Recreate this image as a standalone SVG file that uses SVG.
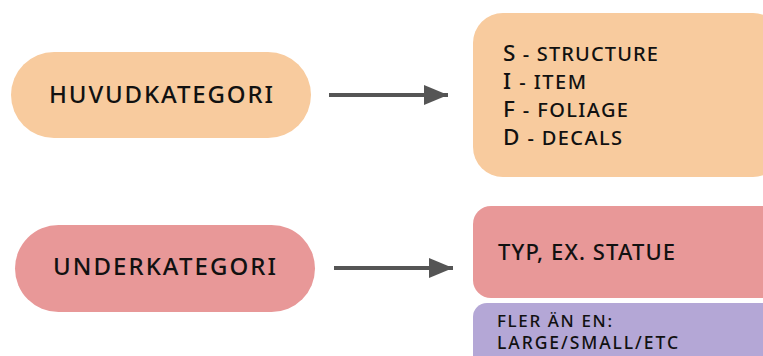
<svg xmlns="http://www.w3.org/2000/svg" width="763" height="356" viewBox="0 0 763 356">
<style>
.t{font-family:"Noto Sans","Liberation Sans",sans-serif;fill:#111;font-weight:500}
.big{font-size:24px}
.lst{font-size:20px}
.cap{font-size:22.5px}
.peach{fill:#F8CB9E}
.pink{fill:#E89898}
.purple{fill:#B4A7D6}
.conn{stroke:#555;stroke-width:4;fill:none}
</style>
<defs>
<marker id="ah" markerUnits="userSpaceOnUse" markerWidth="24" markerHeight="20" refX="24" refY="10" orient="auto">
<path d="M0,0 L24,10 L0,20 Z" fill="#555"/>
</marker>
</defs>
<rect width="763" height="356" fill="#fff"/>
<g id="huvudkategori">
<rect class="peach" x="11" y="52" width="300" height="86" rx="43"/>
<text class="t big" x="49" y="103" textLength="224" lengthAdjust="spacing">HUVUDKATEGORI</text>
</g>
<g id="kategorier">
<rect class="peach" x="473" y="13" width="310" height="164" rx="30"/>
<text class="t lst" x="503" y="61" textLength="155" lengthAdjust="spacing"><tspan class="cap">S</tspan> - STRUCTURE</text>
<text class="t lst" x="503" y="89" textLength="83" lengthAdjust="spacing"><tspan class="cap">I</tspan> - ITEM</text>
<text class="t lst" x="503" y="117" textLength="125" lengthAdjust="spacing"><tspan class="cap">F</tspan> - FOLIAGE</text>
<text class="t lst" x="503" y="145" textLength="119" lengthAdjust="spacing"><tspan class="cap">D</tspan> - DECALS</text>
</g>
<g id="underkategori">
<rect class="pink" x="15" y="225" width="300" height="87" rx="43.5"/>
<text class="t big" x="53" y="275" textLength="223" lengthAdjust="spacing">UNDERKATEGORI</text>
</g>
<g id="typ">
<rect class="pink" x="473" y="206" width="310" height="92" rx="18"/>
<text class="t" style="font-size:22px" x="498" y="260" textLength="177" lengthAdjust="spacing">TYP, EX. STATUE</text>
</g>
<g id="fler">
<rect class="purple" x="473" y="303" width="310" height="80" rx="14"/>
<text class="t" style="font-size:17px" x="497" y="327" textLength="115" lengthAdjust="spacing">FLER ÄN EN:</text>
<text class="t" style="font-size:17.5px" x="497" y="349" textLength="181" lengthAdjust="spacing">LARGE/SMALL/ETC</text>
</g>
<g id="connectors">
<line class="conn" x1="329" y1="95" x2="448" y2="95" marker-end="url(#ah)"/>
<line class="conn" x1="334" y1="268" x2="453" y2="268" marker-end="url(#ah)"/>
</g>
</svg>
